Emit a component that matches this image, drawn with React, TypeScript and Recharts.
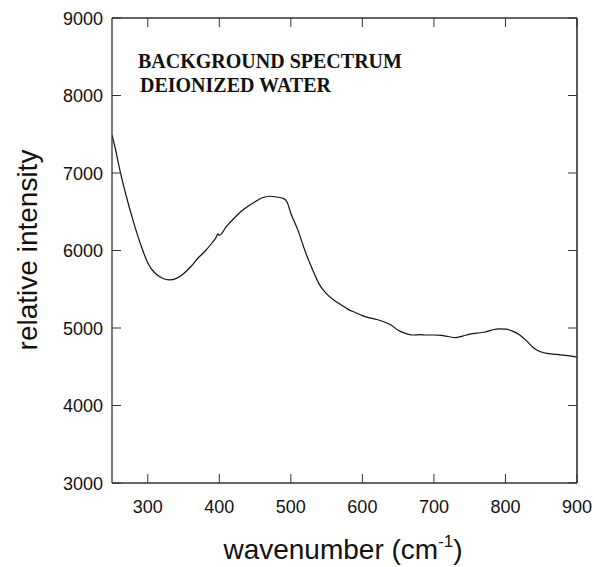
import React from 'react';
import { LineChart, Line, XAxis, YAxis } from 'recharts';

// wavenumber (cm-1) and relative intensity
const wavenumbers = [
  250, 255, 260, 270, 280, 290, 300, 310, 320, 330, 340, 350, 360, 370, 380, 390, 395, 398, 400,
  410, 420, 430, 440, 450, 460, 470, 480, 490, 495, 500, 510, 520, 530, 540, 550, 560, 570, 580,
  590, 600, 610, 620, 630, 640, 650, 660, 670, 680, 690, 700, 710, 720, 730, 740, 750, 760, 770,
  780, 790, 800, 810, 820, 830, 840, 850, 860, 870, 880, 890, 900,
];
const intensities = [
  7490, 7300, 7080, 6700, 6370, 6080, 5840, 5710, 5645, 5620, 5640, 5700, 5790, 5900, 5990, 6100, 6160, 6215, 6195,
  6310, 6410, 6500, 6570, 6630, 6680, 6700, 6690, 6670, 6620, 6480, 6260, 5990, 5760, 5560, 5440, 5360, 5300, 5240,
  5200, 5160, 5130, 5110, 5080, 5040, 4970, 4930, 4910, 4915, 4910, 4910, 4905, 4890, 4875, 4895, 4920, 4935, 4945,
  4970, 4990, 4985, 4960, 4910, 4830, 4740, 4690, 4670, 4660, 4650, 4640, 4625,
];
const xTicks = [300, 400, 500, 600, 700, 800, 900];
const yTicks = [3000, 4000, 5000, 6000, 7000, 8000, 9000];

const data = wavenumbers.map((w, i) => ({ w, v: intensities[i] }));

const sans = '"Liberation Sans", Arial, Helvetica, sans-serif';
const serif = '"Liberation Serif", "Times New Roman", serif';
const frame = '#333';
const TICK = 9;

// tick marks point into the plot, labels sit outside
const BottomTick = (props: any) => {
  const { x, y, payload } = props;
  return (
    <g>
      <line x1={x} y1={y} x2={x} y2={y - TICK} stroke={frame} />
      <text x={x} y={y + 30} textAnchor="middle" fontSize={18} fontFamily={sans} fill="#111">
        {payload.value}
      </text>
    </g>
  );
};

const LeftTick = (props: any) => {
  const { x, y, payload } = props;
  return (
    <g>
      <line x1={x} y1={y} x2={x + TICK} y2={y} stroke={frame} />
      <text x={x - 9} y={y + 6.5} textAnchor="end" fontSize={18} fontFamily={sans} fill="#111">
        {payload.value}
      </text>
    </g>
  );
};

const TopTick = (props: any) => {
  const { x, y } = props;
  return <line x1={x} y1={y} x2={x} y2={y + TICK} stroke={frame} />;
};

const RightTick = (props: any) => {
  const { x, y } = props;
  return <line x1={x} y1={y} x2={x - TICK} y2={y} stroke={frame} />;
};

const XTitle = () => (
  <text x={343} y={559} textAnchor="middle" fontSize={28} fontFamily={sans} fill="#111">
    wavenumber (cm
    <tspan dy={-12} fontSize={17}>-1</tspan>
    <tspan dy={12}>)</tspan>
  </text>
);

const YTitle = () => (
  <text
    x={37}
    y={250}
    transform="rotate(-90 37 250)"
    textAnchor="middle"
    fontSize={28}
    fontFamily={sans}
    fill="#111"
  >
    relative intensity
  </text>
);

const Note = () => (
  <g fontFamily={serif} fontWeight="bold" fontSize={20} fill="#111">
    <text x={138} y={68}>BACKGROUND SPECTRUM</text>
    <text x={140} y={92}>DEIONIZED WATER</text>
  </g>
);

export default function App() {
  return (
    <div style={{ position: 'absolute', left: 0, top: 0, width: 594, height: 567, background: '#fff' }}>
      <LineChart width={594} height={567} data={data} margin={{ top: 17, right: 16, bottom: 0, left: 0 }}>
        <XAxis
          dataKey="w"
          type="number"
          domain={[250, 900]}
          ticks={xTicks}
          allowDataOverflow
          height={84}
          tickSize={0}
          tickMargin={0}
          tickLine={false}
          tick={BottomTick}
          axisLine={{ stroke: frame, strokeWidth: 1.3 }}
          label={{ content: XTitle }}
        />
        <XAxis
          xAxisId="top"
          orientation="top"
          dataKey="w"
          type="number"
          domain={[250, 900]}
          ticks={xTicks}
          allowDataOverflow
          height={1}
          tickSize={0}
          tickMargin={0}
          tickLine={false}
          tick={TopTick}
          axisLine={{ stroke: frame, strokeWidth: 1.3 }}
          label={{ content: Note }}
        />
        <YAxis
          type="number"
          domain={[3000, 9000]}
          ticks={yTicks}
          allowDataOverflow
          width={112}
          tickSize={0}
          tickMargin={0}
          tickLine={false}
          tick={LeftTick}
          axisLine={{ stroke: frame, strokeWidth: 1.3 }}
          label={{ content: YTitle }}
        />
        <YAxis
          yAxisId="right"
          orientation="right"
          type="number"
          domain={[3000, 9000]}
          ticks={yTicks}
          allowDataOverflow
          width={1}
          tickSize={0}
          tickMargin={0}
          tickLine={false}
          tick={RightTick}
          axisLine={{ stroke: frame, strokeWidth: 1.6 }}
        />
        <Line
          type="monotone"
          dataKey="v"
          stroke="#111"
          strokeWidth={1.2}
          dot={false}
          isAnimationActive={false}
        />
      </LineChart>
    </div>
  );
}
